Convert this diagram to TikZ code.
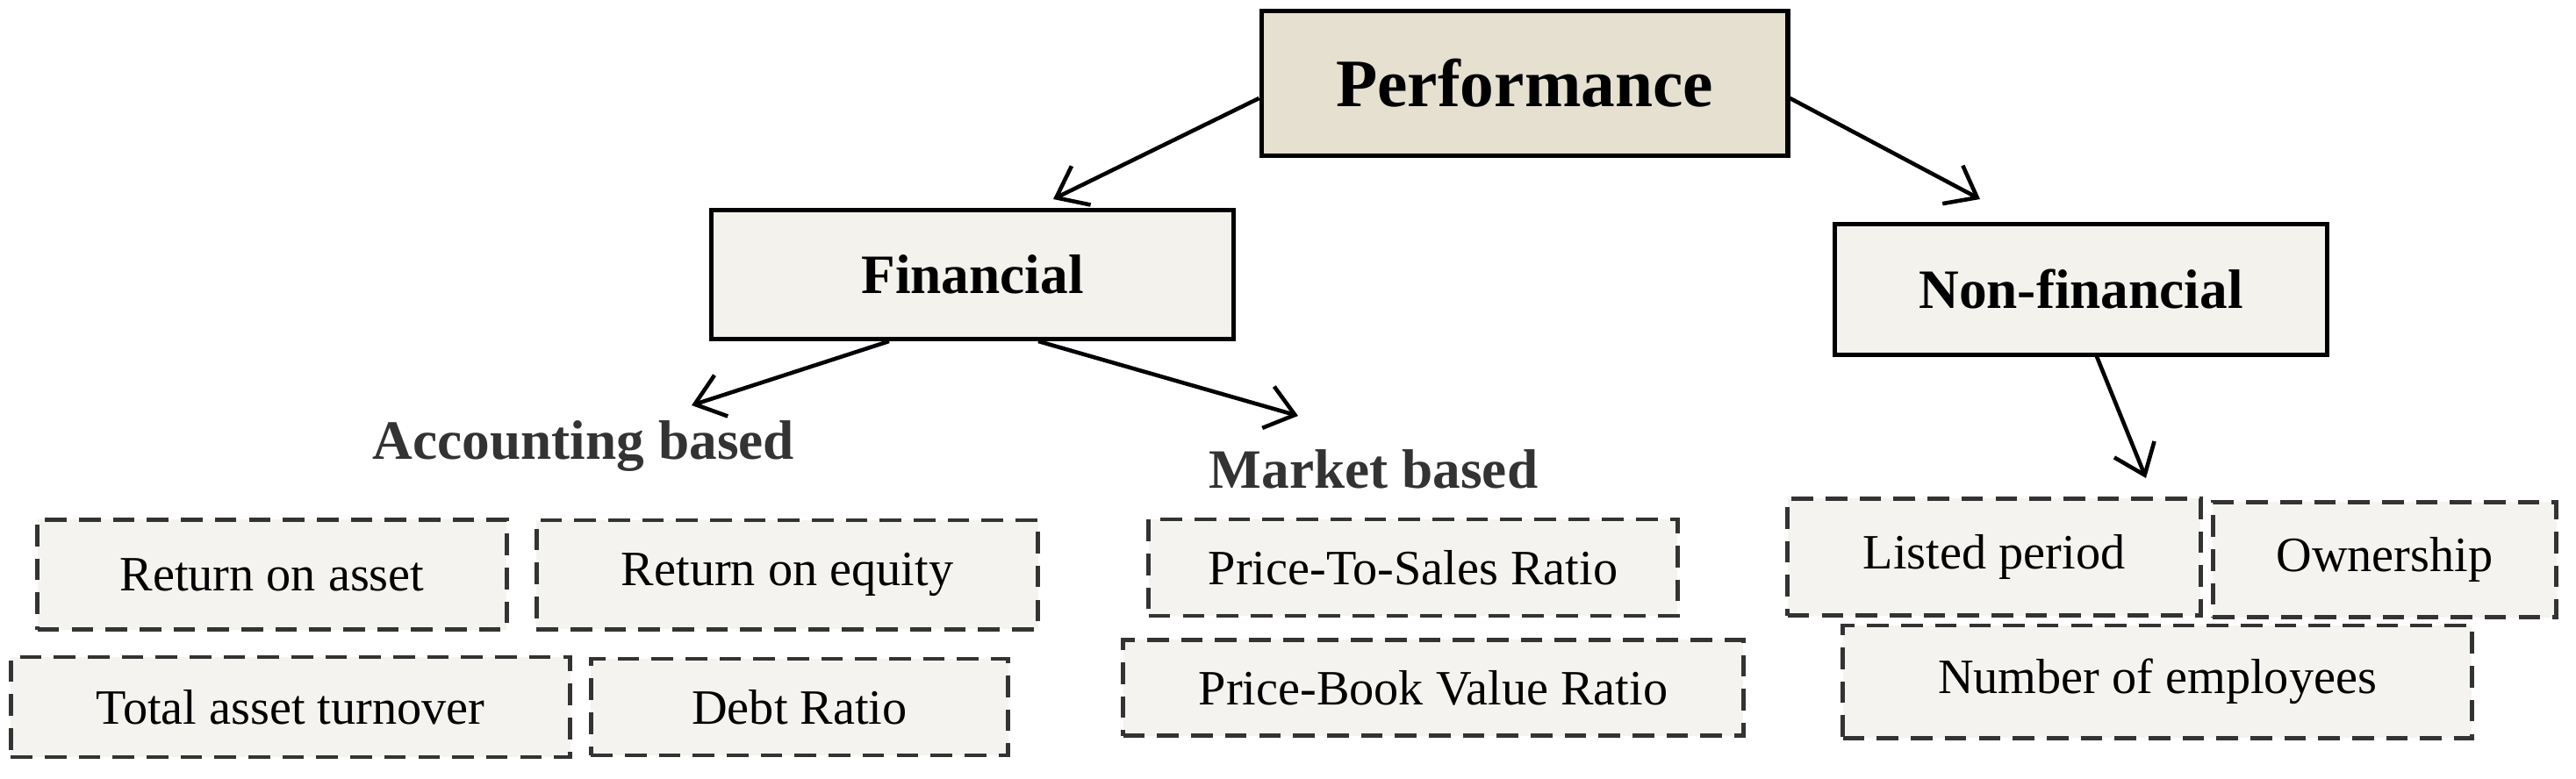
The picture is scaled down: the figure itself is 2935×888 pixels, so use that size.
\documentclass[tikz,border=0pt]{standalone}
\usetikzlibrary{arrows.meta}
\usepackage{fontspec}
\setmainfont{Liberation Serif}
\begin{document}
\begin{tikzpicture}[x=0.01cm,y=-0.01cm,
 top/.style={draw=black,line width=1.6pt,fill=topfill,minimum width=5.99cm,minimum height=1.65cm,font=\fontsize{22}{24}\selectfont\bfseries},
 mid/.style={draw=black,line width=1.4pt,fill=midfill,font=\fontsize{18}{20}\selectfont\bfseries},
 dbox/.style={draw=dashgray,line width=1.4pt,dash pattern=on 7pt off 4pt,fill=boxfill,font=\fontsize{16}{18}\selectfont},
 head/.style={font=\fontsize{18}{20}\selectfont\bfseries,text=headgray},
 arr/.style={line width=1.3pt,->,>={Straight Barb[length=9pt,width=14pt]}}]
\definecolor{topfill}{HTML}{E5E0CF}
\definecolor{midfill}{HTML}{F3F2EC}
\definecolor{boxfill}{HTML}{F4F3EF}
\definecolor{dashgray}{HTML}{333333}
\definecolor{headgray}{HTML}{333333}
\useasboundingbox (0,0) rectangle (2935,888);
\node[top] (perf) at (1737,95) {Performance};
\node[mid,minimum width=5.95cm,minimum height=1.47cm] (fin) at (1108,313) {Financial};
\node[mid,minimum width=5.60cm,minimum height=1.48cm] (nonfin) at (2371,330) {Non-financial};
\node[head] (acc) at (665,509) {Accounting based};
\node[head] (mkt) at (1565,535) {Market based};
\node[dbox,minimum width=5.34cm,minimum height=1.25cm] (roa) at (310,655) {Return on asset};
\node[dbox,minimum width=5.71cm,minimum height=1.24cm] (roe) at (897,655) {Return on equity};
\node[dbox,minimum width=6.37cm,minimum height=1.14cm] (tat) at (331,806) {Total asset turnover};
\node[dbox,minimum width=4.75cm,minimum height=1.10cm] (debt) at (911,806) {Debt Ratio};
\node[dbox,minimum width=6.02cm,minimum height=1.10cm] (pts) at (1610,647) {Price-To-Sales Ratio};
\node[dbox,minimum width=7.06cm,minimum height=1.09cm] (pbv) at (1633,784) {Price-Book Value Ratio};
\node[dbox,minimum width=4.70cm,minimum height=1.33cm] (lp) at (2272,635) {Listed period};
\node[dbox,minimum width=3.91cm,minimum height=1.31cm] (own) at (2717,638) {Ownership};
\node[dbox,minimum width=7.16cm,minimum height=1.28cm] (emp) at (2458,777) {Number of employees};
\coordinate (e1) at (1200,227);
\coordinate (e2) at (2256,227);
\coordinate (e3) at (788,462);
\coordinate (e4) at (1479,474);
\coordinate (e5) at (2445,545);
\draw[arr] (perf.west |- 0,112) -- (e1);
\draw[arr] (perf.east |- 0,112) -- (e2);
\draw[arr] (fin.south -| 1013,0) -- (e3);
\draw[arr] (fin.south -| 1183,0) -- (e4);
\draw[arr] (nonfin.south -| 2389,0) -- (e5);
\end{tikzpicture}
\end{document}
